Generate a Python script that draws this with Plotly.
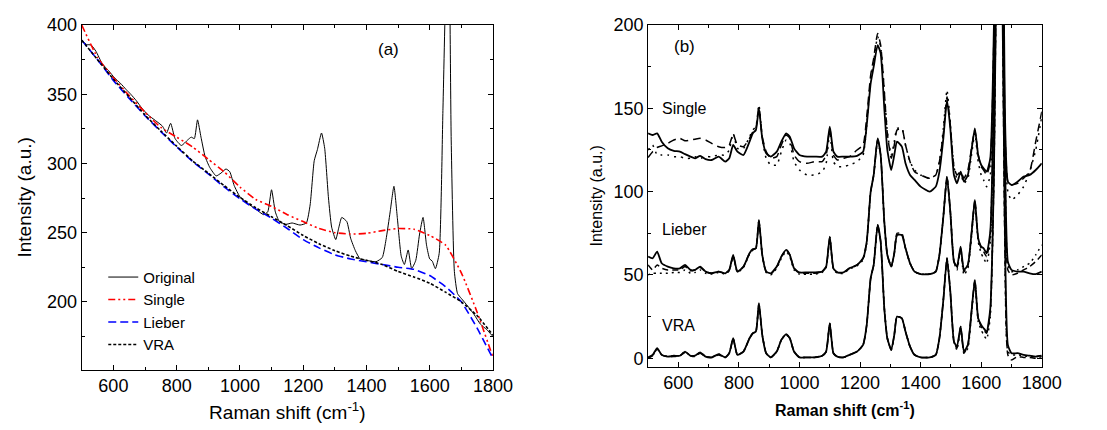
import plotly.graph_objects as go

# ---------------- data ----------------
# common Raman-shift grid for the spectra (cm^-1)
shift = [500, 515, 530, 545, 565, 585, 605, 622, 640, 655,
         672, 690, 710, 733, 755, 768, 781, 795, 815, 835,
         846, 856, 866, 877, 890, 905, 925, 940, 956, 968,
         982, 1000, 1025, 1050, 1075, 1088, 1100, 1112, 1125, 1145,
         1165, 1190, 1210, 1222, 1235, 1245, 1258, 1268, 1280, 1290,
         1303, 1313, 1322, 1338, 1350, 1365, 1380, 1400, 1430, 1450,
         1462, 1475, 1487, 1498, 1510, 1520, 1532, 1543, 1556, 1568,
         1579, 1590, 1600, 1608, 1618, 1630, 1642, 1652, 1660, 1668,
         1678, 1688, 1700, 1720, 1740, 1760, 1780, 1800]

# (a) raw spectrum
original = [389, 386, 385.5, 381, 372, 367, 361.5, 358, 353.5, 350,
            345.5, 340, 335, 331, 327, 322, 329, 318, 313, 317,
            319, 318, 331.5, 319, 305, 297, 291, 293, 296, 294,
            284, 276, 271, 267, 263, 265, 281, 265, 258, 256,
            257, 255.5, 257, 270, 302, 310, 322, 311, 275, 254,
            245, 254, 261, 258, 246, 237, 231, 230, 229, 232,
            245, 265, 283.5, 260, 233, 227, 237.5, 224, 230, 249,
            261, 241, 231, 229.5, 224, 235, 340, 440, 480, 317,
            222, 206, 202.5, 197, 191, 184, 180, 175]

# (a) estimated baselines
base_shift = [500, 550, 600, 650, 700, 750, 800, 850, 900, 950,
              1000, 1050, 1100, 1150, 1200, 1250, 1300, 1350, 1400, 1450,
              1500, 1550, 1600, 1650, 1700, 1750, 1800]
single_base = [400, 376.5, 362, 349, 337, 326, 319, 312, 303, 294,
               283, 274, 269, 263, 258, 253, 250, 249, 249.5, 251.5,
               253, 252.5, 248, 241, 221, 192.5, 160]
lieber_base = [389, 375, 360, 347, 334.5, 323, 312, 301.5, 292.5, 283,
               274.5, 267, 260.5, 253, 245, 239, 234, 231, 229, 227,
               225, 223.5, 219, 211, 200, 181, 159]
vra_base = [389, 375, 361, 348, 335, 323.5, 312.5, 302, 293, 284,
            275.5, 268, 261.5, 255, 248, 242, 237, 233, 230, 227,
            222, 218, 213.5, 207, 200, 190, 176]

# (b) baseline-corrected spectra (three traces per method, offset)
vra_solid = [0.5, 2, 6, 2, 1, 1.5, 1.5, 4, 1.5, 1.5,
             3.5, 1, 0.5, 2.5, 0.5, 3, 12, 2, 4, 12,
             15, 16, 33, 14, 3, 0.5, 4, 11, 14.5, 12,
             4, 0.5, 0.5, 0.5, 1.5, 4, 21, 3, 1, 0.5,
             2, 4, 8, 20, 48, 56, 80, 70, 30, 12,
             5, 14, 25, 24, 16, 7, 2, 0.5, 0.5, 2,
             12, 35, 60, 40, 10, 7, 19, 4, 8, 28,
             47, 24, 20, 18, 16, 30, 110, 260, 300, 250,
             80, 8, 3, 3, 2, 1.5, 1, 1.5]
vra_dash = [0, 1.5, 5.5, 2, 1, 1, 1.5, 3.5, 1.5, 1,
            3, 1, 0.5, 2, 0.5, 3, 11.5, 2, 4, 12,
            15, 16, 32.5, 14, 3, 0.5, 4, 11, 14, 12,
            4, 0.5, 0.5, 0.5, 1.5, 4, 20.5, 3, 1, 0.5,
            2, 4, 8, 20, 48, 56, 80, 70, 30, 12,
            5, 14, 25, 24, 16, 7, 2, 0.5, 0.5, 2,
            12, 35, 60, 40, 10, 6, 19, 3, 8, 28,
            47, 24, 19, 17, 15, 28, 110, 260, 300, 250,
            70, 2, -1, 1, 0.5, 0.5, 0, 1]
vra_dot = [0.5, 1.5, 5.5, 2, 1, 1.5, 1.5, 4, 1.5, 1.5,
           3.5, 1, 0.5, 2.5, 0.5, 3, 12, 2, 4, 12,
           15, 16, 33, 14, 3, 0.5, 4, 11, 14.5, 12,
           4, 0.5, 0.5, 0.5, 1.5, 4, 21, 3, 1, 0.5,
           2, 4, 8, 20, 48, 56, 80, 70, 30, 12,
           5, 14, 25, 24, 16, 7, 2, 0.5, 0.5, 2,
           12, 35, 60, 40, 10, 5, 18, 3, 6, 27,
           46, 22, 17, 14, 11.5, 25, 110, 260, 300, 250,
           75, 4, 2, 2, 1.5, 1, 1, 1.5]

lieber_solid = [61, 60, 64, 57, 55, 54, 54, 56, 53, 53,
                55, 52, 51, 52, 51, 53, 62, 52, 55, 63,
                65.5, 66, 83, 62, 52, 51, 55, 61, 65, 62,
                54, 51.5, 51.5, 51.5, 52, 55, 73, 54, 51.5, 51.5,
                54, 56, 60, 70, 100, 110, 132, 122, 82, 62,
                55, 63, 74, 74, 66, 57, 52, 50.5, 50.5, 52,
                62, 85, 109, 88, 58, 55, 67, 53, 56, 75,
                95, 72, 67, 66, 63, 76, 160, 300, 350, 300,
                130, 58, 53, 52, 52, 51, 50.5, 52]
lieber_dash = [56, 53, 56, 54, 53, 53, 53, 55, 52.5, 53,
               54.5, 52, 51, 52, 51, 53, 61.5, 52, 55, 63,
               65, 66, 82.5, 62, 52, 50.5, 55, 61, 65, 62,
               54, 51, 51, 51, 52, 55, 72.5, 54, 51.5, 51.5,
               54, 56, 60, 70, 100, 110, 131, 122, 82, 62,
               55, 63, 75, 75, 66, 57, 52, 50.5, 50.5, 52,
               62, 85, 109, 88, 58, 54, 66, 52, 56, 75,
               95, 72, 66, 64, 61, 74, 160, 300, 350, 300,
               120, 53, 50, 51, 53, 55, 58, 62]
lieber_dot = [50, 51, 51, 51, 51, 51.5, 51.5, 53, 51, 51.5,
              53, 51, 50.5, 51.5, 50.5, 52.5, 61, 51.5, 54.5, 62.5,
              65, 66, 82.5, 62, 51.5, 50, 54, 60, 64, 61,
              53, 50.5, 50.5, 50.5, 51.5, 54.5, 72.5, 53.5, 51, 51,
              53.5, 55.5, 59, 69, 100, 110, 131, 122, 82, 62,
              55, 63, 74, 74, 66, 57, 52, 50.5, 50.5, 52,
              62, 85, 109, 88, 58, 53, 65, 50, 54, 73,
              94, 70, 63, 60, 57, 70, 158, 300, 350, 300,
              125, 56, 52, 53, 55, 57, 62, 68]

single_solid = [135, 134, 135, 130, 126, 124.5, 124, 122.5, 121, 120,
                121.5, 119.5, 119, 121, 118, 120, 128, 124, 122, 130,
                135, 137, 150, 132, 123, 121, 124, 130, 135, 133,
                126, 122, 121, 121, 121, 124, 139, 124, 121, 121,
                121, 121.5, 124, 140, 165, 175, 188, 183, 150, 125,
                113, 122, 130, 127, 117, 110, 107, 103, 100, 103,
                112, 132, 155, 138, 110, 105, 112, 106, 110, 125,
                138, 122, 116, 114, 112, 120, 200, 350, 400, 350,
                150, 106, 104, 106, 109, 110, 113, 117]
single_dash = [120.5, 124, 126.5, 127.5, 129, 131, 132, 130.5, 131, 131.5,
               132, 131, 129, 127, 126.5, 128, 134.5, 128, 127, 132,
               136, 138, 151, 133, 124, 120, 121, 128, 134, 132,
               122, 118, 117, 118, 118, 122, 138, 122, 119, 120,
               121, 125, 128, 145, 170, 180, 195, 188, 160, 135,
               120, 128, 137, 138, 128, 118, 112, 110, 108, 110,
               118, 135, 157, 140, 115, 110, 112, 108, 113, 126,
               137, 122, 115, 113, 110, 118, 195, 350, 400, 350,
               140, 106, 104, 105, 108, 112, 130, 148]
single_dot = [125, 128, 122, 122, 122, 121, 121, 120, 120, 121,
              120, 121, 121, 122, 122, 125, 135, 126, 126, 133,
              137, 139, 152, 132, 120, 116, 116, 124, 131, 129,
              118, 113, 110, 110, 112, 117, 136, 118, 115, 115,
              116, 118, 122, 140, 168, 178, 193, 187, 160, 136,
              122, 130, 138, 138, 128, 118, 113, 110, 108, 110,
              118, 138, 161, 141, 115, 108, 111, 105, 108, 122,
              135, 118, 110, 107, 103, 110, 190, 350, 400, 350,
              130, 100, 95, 98, 103, 112, 125, 145]

legend_names = ["Original", "Single", "Lieber", "VRA"]
x_ticks = [600, 800, 1000, 1200, 1400, 1600, 1800]
ya_ticks = [200, 250, 300, 350, 400]
yb_ticks = [0, 50, 100, 150, 200]
group_labels = ["Single", "Lieber", "VRA"]
group_label_y = [150, 77, 19.5]

# ---------------- figure ----------------
FONT = "Arial, Liberation Sans, sans-serif"
fig = go.Figure()
sp = dict(shape="spline", smoothing=0.5)

fig.add_trace(go.Scatter(x=shift, y=original, mode="lines", name=legend_names[0],
                         line=dict(color="black", width=1, **sp), xaxis="x", yaxis="y"))
fig.add_trace(go.Scatter(x=base_shift, y=single_base, mode="lines", name=legend_names[1],
                         line=dict(color="#ff0000", width=1.6, dash="7px,3px,2px,3px,2px,3px", **sp),
                         xaxis="x", yaxis="y"))
fig.add_trace(go.Scatter(x=base_shift, y=lieber_base, mode="lines", name=legend_names[2],
                         line=dict(color="#0000ff", width=1.6, dash="8px,4px", **sp),
                         xaxis="x", yaxis="y"))
fig.add_trace(go.Scatter(x=base_shift, y=vra_base, mode="lines", name=legend_names[3],
                         line=dict(color="black", width=1.6, dash="3px,2px", **sp),
                         xaxis="x", yaxis="y"))

for ys, dash, w in [(vra_solid, "solid", 1.8), (vra_dash, "6px,4px", 1.5), (vra_dot, "2px,4px", 1.5),
                    (lieber_solid, "solid", 1.8), (lieber_dash, "6px,4px", 1.5), (lieber_dot, "2px,4px", 1.5),
                    (single_solid, "solid", 1.8), (single_dash, "8px,5px", 1.5), (single_dot, "2px,5px", 1.5)]:
    fig.add_trace(go.Scatter(x=shift, y=ys, mode="lines", showlegend=False,
                             line=dict(color="black", width=w, dash=dash, **sp),
                             xaxis="x2", yaxis="y2"))

axis_common = dict(showline=True, linecolor="black", linewidth=1, mirror="ticks",
                   ticks="inside", ticklen=5, tickcolor="black", showgrid=False, zeroline=False,
                   tickfont=dict(family=FONT, size=18, color="black"))

fig.update_layout(
    width=1107, height=430,
    margin=dict(l=0, r=0, t=0, b=0),
    paper_bgcolor="white", plot_bgcolor="white",
    font=dict(family=FONT, color="black"),
    xaxis=dict(domain=[0.0752, 0.4535], range=[500, 1800], tickvals=x_ticks,
               minor=dict(ticks="inside", dtick=100, ticklen=3, tickcolor="black"),
               title=dict(text="Raman shift (cm<sup>-1</sup>)", font=dict(size=19), standoff=10),
               anchor="y", **axis_common),
    yaxis=dict(domain=[0.1395, 0.964], range=[151, 400], tickvals=ya_ticks,
               minor=dict(ticks="inside", dtick=25, ticklen=3, tickcolor="black"),
               title=dict(text="Intensity (a.u.)", font=dict(size=19), standoff=10),
               anchor="x", **axis_common),
    xaxis2=dict(domain=[0.5962, 0.9584], range=[500, 1800], tickvals=x_ticks,
                minor=dict(ticks="inside", dtick=100, ticklen=3, tickcolor="black"),
                title=dict(text="<b>Raman shift (cm<sup>-1</sup>)</b>", font=dict(size=16), standoff=12),
                anchor="y2", **axis_common),
    yaxis2=dict(domain=[0.147, 0.964], range=[-5, 200], tickvals=yb_ticks,
                minor=dict(ticks="inside", dtick=25, ticklen=3, tickcolor="black"),
                title=dict(text="Intensity (a.u.)", font=dict(size=16), standoff=6),
                anchor="x2", **axis_common),
    legend=dict(x=0.095, y=0.40, xanchor="left", yanchor="top",
                bgcolor="rgba(0,0,0,0)", font=dict(family=FONT, size=15),
                tracegroupgap=0, itemwidth=30),
    showlegend=True,
)

fig.add_annotation(text="(a)", x=1470, y=382, xref="x", yref="y", showarrow=False,
                   font=dict(family=FONT, size=17))
fig.add_annotation(text="(b)", x=620, y=187, xref="x2", yref="y2", showarrow=False,
                   font=dict(family=FONT, size=17))
for lab, yy in zip(group_labels, group_label_y):
    fig.add_annotation(text=lab, x=540, y=yy, xref="x2", yref="y2", showarrow=False,
                       xanchor="left", font=dict(family=FONT, size=16))

fig.write_html("out.html")
